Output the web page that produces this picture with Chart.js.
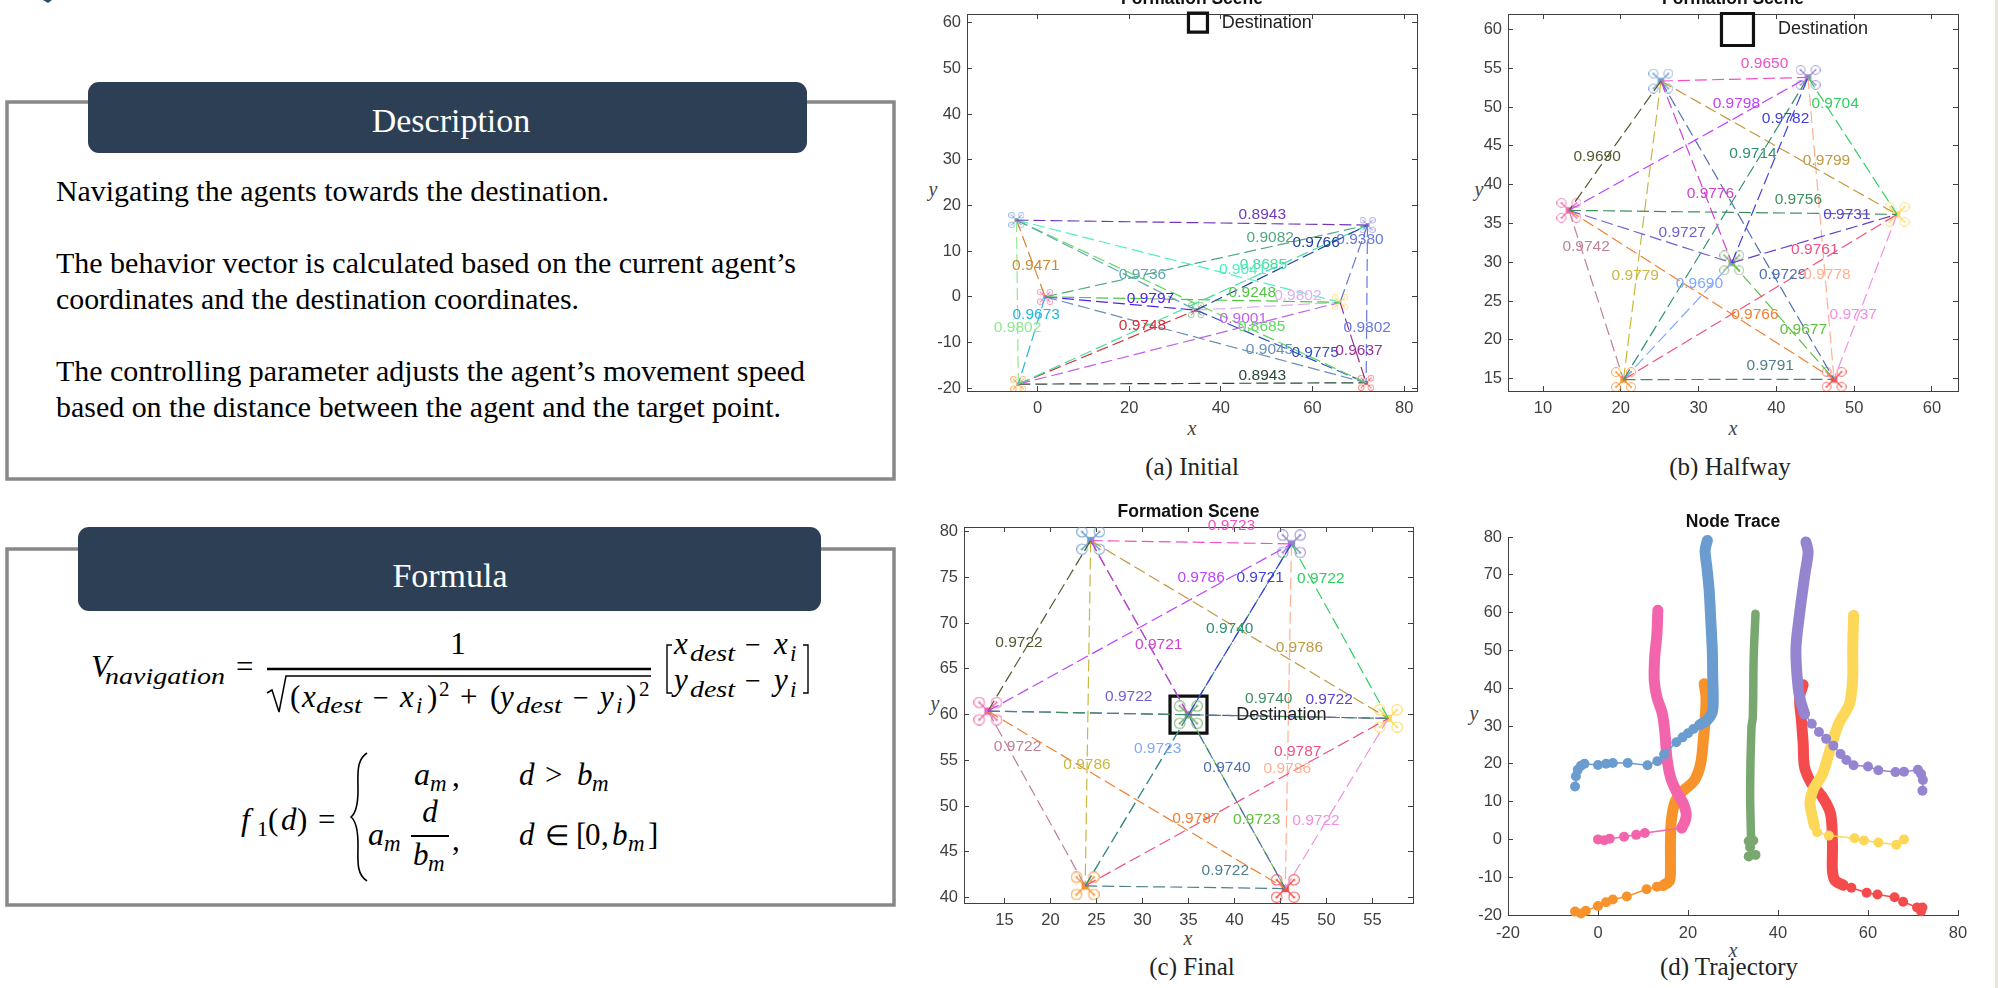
<!DOCTYPE html>
<html>
<head>
<meta charset="utf-8">
<title>Navigation</title>
<script src="https://cdn.jsdelivr.net/npm/chart.js@4"></script>
<style>
html,body{margin:0;padding:0;background:#fff;}
body{width:1998px;height:988px;overflow:hidden;position:relative;}
#page{position:absolute;left:0;top:0;}
canvas{position:absolute;filter:blur(0.35px);}
</style>
</head>
<body>
<svg id="page" width="1998" height="988" xmlns="http://www.w3.org/2000/svg"></svg>
<canvas id="chartA"></canvas>
<canvas id="chartB"></canvas>
<canvas id="chartC"></canvas>
<canvas id="chartD"></canvas>
<script>
// agents, same order in panels a,b,c: top-left, left, bottom-left, centre, right, top-right, bottom-right
var nodeColors=['#6b9ccf','#f265ac','#f8922a','#78a870','#fdd858','#9585d0','#f44c4c'];
var nodesAx=[-4.6,1.66,-4.2,34.6,66,72,71.7];
var nodesAy=[16.8,0,-19.1,-2.9,-1.2,15.7,-18.8];
var nodesBx=[25.16,13.34,20.35,34.27,55.51,44.07,47.41];
var nodesBy=[53.36,36.69,14.87,29.92,36.17,53.83,14.91];
var nodesCx=[24.37,13.2,23.77,34.98,56.72,46.19,45.52];
var nodesCy=[79.02,60.38,41.27,59.98,59.58,78.66,40.98];
var destX=[35];
var destY=[60];

// the 21 links
var edgeFrom=[0,1,3,5,0,0,2,0,1,3,1,1,0,2,2,0,1,3,4,5,2];
var edgeTo=  [5,5,5,4,1,3,5,4,4,4,3,2,2,3,4,6,6,6,6,6,6];
var edgeColorsA=['#7038b8','#50a880','#2040a0','#6878d8','#d08830','#60a8b0','#40e0a0','#50f0c0','#50c840','#e0b0f0','#5020f0','#20b8d8','#90e890','#d83038','#c060f0','#60d860','#6890b8','#3050c8','#983098','#6878e0','#284838'];
var edgeColorsB=['#f050c8','#c040ff','#4040e0','#30d060','#505a30','#d040d0','#2f8f70','#c09a40','#3f8f5f','#6040d0','#7060d0','#c08098','#c8b840','#80a8ff','#f05080','#5070b0','#f08030','#60c040','#f090e0','#ffb090','#4f7f8f'];

var valuesA=['0.8943','0.9082','0.9766','0.9380','0.9471','0.9736','0.8685','0.9041','0.9248','0.9802','0.9797','0.9673','0.9802','0.9748','0.9001','0.8685','0.9045','0.9775','0.9637','0.9802','0.8943'];
var labelAx=[49.04,50.77,60.79,70.36,-0.38,22.9,49.27,44.75,46.86,56.8,24.63,-0.3,-4.37,22.9,44.9,48.89,50.62,60.56,70.13,71.94,49.04];
var labelAy=[17.88,12.92,11.82,12.41,6.72,4.74,7.08,5.99,0.88,0.15,-0.36,-4.01,-6.72,-6.28,-4.89,-6.5,-11.53,-12.26,-11.75,-6.72,-17.3];

var valuesB=['0.9650','0.9798','0.9782','0.9704','0.9690','0.9776','0.9714','0.9799','0.9756','0.9731','0.9727','0.9742','0.9779','0.9690','0.9761','0.9729','0.9766','0.9677','0.9737','0.9778','0.9791'];
var labelBx=[38.48,34.86,41.18,47.55,16.96,31.52,37.0,46.45,42.83,49.06,27.9,15.54,21.86,30.1,44.94,40.8,37.24,43.47,49.88,46.5,39.21];
var labelBy=[55.55,50.49,48.48,50.4,43.63,38.83,43.98,43.12,38.1,36.09,33.82,32.0,28.2,27.2,31.55,28.33,23.27,21.26,23.19,28.4,16.71];

var valuesC=['0.9723','0.9786','0.9721','0.9722','0.9722','0.9721','0.9740','0.9786','0.9740','0.9722','0.9722','0.9722','0.9786','0.9723','0.9787','0.9740','0.9787','0.9723','0.9722','0.9786','0.9722'];
var labelCx=[39.67,36.37,42.78,49.38,16.57,31.76,39.48,47.05,43.72,50.28,28.5,16.42,23.96,31.64,46.87,39.18,35.8,42.4,48.85,45.74,39];
var labelCy=[80.65,74.99,74.99,74.8,67.83,67.61,69.36,67.32,61.69,61.62,61.98,56.53,54.5,56.31,55.99,54.2,48.65,48.54,48.36,54.1,42.9];

var ticksAx=[0,20,40,60,80];
var ticksAy=[-20,-10,0,10,20,30,40,50,60];
var ticksBx=[10,20,30,40,50,60];
var ticksBy=[15,20,25,30,35,40,45,50,55,60];
var ticksCx=[15,20,25,30,35,40,45,50,55];
var ticksCy=[40,45,50,55,60,65,70,75,80];
var ticksDx=[-20,0,20,40,60,80];
var ticksDy=[-20,-10,0,10,20,30,40,50,60,70,80];

// node trace, sparse part is where the dots can be told apart, dense part is where they merge
var blueSparseX=[-5.1,-4.9,-4.5,-3.8,-3,0,1.8,3.3,6.6,11,13.2,14.7,17.4,18.8,20,21.2,22.6];
var blueSparseY=[14,16.7,18.4,19.5,20,19.7,20,20.2,20.2,19.6,20.7,22.5,25.7,27,28.1,29.2,30.3];
var blueDenseX=[22.6,24.2,25.4,25.6,25.5,25.4,25.1,24.7,24.2,23.8,24.3];
var blueDenseY=[30.3,31.5,33.7,37.6,42.9,50,57,65.9,72,76.5,79.1];
var pinkSparseX=[0,1.4,2.6,5.8,8.5,10.4,18.6];
var pinkSparseY=[0,-0.2,0.2,0.7,1.2,1.7,3];
var pinkDenseX=[18.6,19.4,19.6,19,17.5,16.1,15.3,14.9,14.3,13.1,12.5,12.6,13.1,13.3];
var pinkDenseY=[3,5,6.8,9.4,12.5,16.5,21.7,27.9,33.2,37.6,42,48.2,54.4,60.6];
var orangeSparseX=[-5.1,-3.8,-2.7,0,1.8,3.3,6.4,10.8,13.1,14.5];
var orangeSparseY=[-19.1,-19.6,-18.9,-17.6,-16.6,-15.9,-15.1,-13.2,-12.5,-12.2];
var orangeDenseX=[14.5,15.9,16.1,16.1,16.3,17.1,18.6,21.4,22.8,23.4,23.8,24,23.6];
var orangeDenseY=[-12.2,-10.9,-7.4,-1.2,5,9.8,12.5,15.6,20,26.2,31.5,37.6,41.2];
var greenSparseX=[33.5,35,33.8,33.5,34.5];
var greenSparseY=[-4.5,-4.1,-2.1,-0.5,-0.3];
var greenDenseX=[34,33.8,34.1,34.4,34.6,35];
var greenDenseY=[0.6,12.9,29.7,32.3,48.2,59.7];
var purpleSparseX=[72.1,72.2,71.8,71.1,68,66.1,62.3,60,56.8,55.2,53.9,52.3,50.7,49.1,47.5,45.9];
var purpleSparseY=[12.9,15.7,17.3,18.4,17.9,17.8,18.3,19.3,19.6,21,22.6,24.8,26.6,28.4,30.6,33.2];
var purpleDenseX=[45.9,44.8,44.2,44,44.8,46,46.7,46.2];
var purpleDenseY=[33.2,37.6,43.8,50.9,59.7,70.3,76,78.7];
var yellowSparseX=[68,66.3,62.3,59.1,57,51.3,48.7,48.1];
var yellowSparseY=[0,-1.4,-0.8,-0.3,0.3,1,1.9,3.6];
var yellowDenseX=[48.1,47.5,47.1,47.9,49.9,51.5,53.5,55.9,56.6,56.6,56.8];
var yellowDenseY=[3.6,6.7,9.8,13.4,17.3,23.5,30.6,35.9,42.9,50,59.3];
var redSparseX=[71.8,72.1,70.9,67.8,65.9,62.1,59.7,56.3,54.5];
var redSparseY=[-19,-18,-18,-16.5,-15.3,-14.6,-14.1,-12.8,-12.1];
var redDenseX=[54.5,52.7,52.1,52.1,51.7,49.9,47.5,45.9,45.6,45.2,44.8,45.6];
var redDenseY=[-12.1,-10.9,-8.3,-1.2,6.7,11.2,14.7,19.1,25.3,31.5,37.6,40.9];

var FONT='"Liberation Sans",Arial,sans-serif';
var SERIF='"Liberation Serif","Times New Roman",serif';
var TICKCOL='#404040';
var SIDE=44,BOTTOM=30,TOPH=25;

function pts(xs,ys){
	var out=[];
	for(var i=0;i<xs.length;i++){
		out.push({x:xs[i],y:ys[i]});
	}
	return out;
}

// quadcopter glyph, used as the point style of the agents
function droneIcon(color,size){
	var c=document.createElement('canvas');
	c.width=size;c.height=size;
	var g=c.getContext('2d');
	var m=size/2,r=size*0.18,o=size*0.3;
	g.strokeStyle=color;g.fillStyle=color;
	var sx=[-1,1,-1,1],sy=[-1,-1,1,1];
	for(var i=0;i<4;i++){
		g.lineWidth=Math.max(1,size/20);
		g.beginPath();g.moveTo(m,m);g.lineTo(m+sx[i]*o,m+sy[i]*o);g.stroke();
		g.globalAlpha=0.85;
		g.lineWidth=Math.max(0.8,size/26);
		g.beginPath();g.arc(m+sx[i]*o,m+sy[i]*o,r,0,Math.PI*2);g.stroke();
		g.beginPath();g.arc(m+sx[i]*o,m+sy[i]*o,Math.max(0.7,size/24),0,Math.PI*2);g.fill();
		g.globalAlpha=1;
	}
	var b=size/8;
	g.fillRect(m-b,m-b,b*2,b*2);
	return c;
}

// number labels and the "Destination" word, anchored in data coordinates
var textPlugin={
	id:'edgeText',
	afterDatasetsDraw:function(chart,args,opts){
		if(!opts.items){return;}
		var ctx=chart.ctx;
		ctx.save();
		ctx.textBaseline='middle';
		for(var i=0;i<opts.items.length;i++){
			var t=opts.items[i];
			ctx.font=t.size+'px '+FONT;
			ctx.fillStyle=t.color;
			ctx.textAlign=t.align||'center';
			ctx.fillText(t.text,chart.scales.x.getPixelForValue(t.x),chart.scales.y.getPixelForValue(t.y));
		}
		ctx.restore();
	}
};

function linearAxis(pos,min,max,list,opts){
	var isX=(pos=='bottom'||pos=='top');
	var shown=(pos=='bottom'||pos=='left');
	return {
		type:'linear',axis:isX?'x':'y',position:pos,min:min,max:max,
		border:{display:opts.box||shown,color:TICKCOL,width:1},
		grid:{drawOnChartArea:false,drawTicks:opts.box||shown,tickLength:-5,color:TICKCOL,lineWidth:1},
		ticks:{
			display:shown,color:TICKCOL,autoSkip:false,maxRotation:0,
			font:{family:FONT,size:16.5},
			padding:isX?opts.padX:11,
			callback:function(v){return String(v);}
		},
		afterBuildTicks:function(s){
			s.ticks=list.map(function(v){return {value:v};});
		},
		afterFit:function(s){
			if(isX){s.height=(pos=='bottom')?BOTTOM:0;}
			else{s.width=SIDE;}
		}
	};
}

function makeChart(id,box,limits,tickX,tickY,title,datasets,items,opts){
	var cv=document.getElementById(id);
	cv.width=box.r-box.l+SIDE*2;
	cv.height=box.b-box.t+TOPH+BOTTOM;
	cv.style.left=(box.l-SIDE)+'px';
	cv.style.top=(box.t-TOPH)+'px';
	return new Chart(cv,{
		type:'scatter',
		data:{datasets:datasets},
		plugins:[textPlugin],
		options:{
			responsive:false,animation:false,devicePixelRatio:1,
			layout:{padding:0,autoPadding:false},
			scales:{
				x:linearAxis('bottom',limits[0],limits[1],tickX,opts),
				y:linearAxis('left',limits[2],limits[3],tickY,opts),
				xTop:linearAxis('top',limits[0],limits[1],tickX,opts),
				yRight:linearAxis('right',limits[2],limits[3],tickY,opts)
			},
			plugins:{
				legend:{display:false},
				tooltip:{enabled:false},
				title:{display:true,text:title,color:'#111',font:{family:FONT,size:17.5,weight:'bold',lineHeight:1.2},padding:{top:0,bottom:4}},
				edgeText:{items:items}
			}
		}
	});
}

function formationSets(nx,ny,colors,iconSize,destSize){
	var sets=[];
	for(var i=0;i<edgeFrom.length;i++){
		var a=edgeFrom[i],b=edgeTo[i];
		sets.push({
			data:[{x:nx[a],y:ny[a]},{x:nx[b],y:ny[b]}],
			showLine:true,pointRadius:0,borderColor:colors[i],borderWidth:1.2,borderDash:[12,5]
		});
	}
	for(var k=0;k<nx.length;k++){
		sets.push({
			data:[{x:nx[k],y:ny[k]}],
			showLine:false,pointStyle:droneIcon(nodeColors[k],iconSize),pointRadius:iconSize/2
		});
	}
	sets.push({
		data:pts(destX,destY),
		showLine:false,pointStyle:'rect',pointRadius:destSize/Math.SQRT2,clip:false,
		borderColor:'#111',borderWidth:3.2,backgroundColor:'rgba(0,0,0,0)'
	});
	return sets;
}

function formationText(vals,lx,ly,colors){
	var items=[];
	for(var i=0;i<vals.length;i++){
		items.push({text:vals[i],x:lx[i],y:ly[i],color:colors[i],size:15.5});
	}
	items.push({text:'Destination',x:40.2,y:destY[0],color:'#222',size:18,align:'left'});
	return items;
}

function traceSets(color,sx,sy,dx,dy,w){
	return [
		{data:pts(sx,sy),showLine:true,borderColor:color,borderWidth:1.5,backgroundColor:color,pointRadius:5,pointBorderWidth:0,clip:false},
		{data:pts(dx,dy),showLine:true,borderColor:color,borderWidth:w,pointRadius:0,tension:0.3,borderCapStyle:'round',borderJoinStyle:'round',clip:false}
	];
}

Chart.defaults.font.family=FONT;

makeChart('chartA',{l:967,r:1417,t:14,b:391},[-15.4,82.8,-20.6,61.9],ticksAx,ticksAy,'Formation Scene',
	formationSets(nodesAx,nodesAy,edgeColorsA,16,19),formationText(valuesA,labelAx,labelAy,edgeColorsA),{box:true,padX:13});
makeChart('chartB',{l:1508,r:1958,t:14,b:391},[5.5,63.35,13.4,62],ticksBx,ticksBy,'Formation Scene',
	formationSets(nodesBx,nodesBy,edgeColorsB,25,32),formationText(valuesB,labelBx,labelBy,edgeColorsB),{box:true,padX:13});
makeChart('chartC',{l:964,r:1413,t:527,b:903},[10.6,59.4,39.4,80.5],ticksCx,ticksCy,'Formation Scene',
	formationSets(nodesCx,nodesCy,edgeColorsB,29,37),formationText(valuesC,labelCx,labelCy,edgeColorsB),{box:true,padX:13});
var traces=[].concat(
	traceSets('#6b9ccf',blueSparseX,blueSparseY,blueDenseX,blueDenseY,11),
	traceSets('#f265ac',pinkSparseX,pinkSparseY,pinkDenseX,pinkDenseY,11),
	traceSets('#f8922a',orangeSparseX,orangeSparseY,orangeDenseX,orangeDenseY,11),
	traceSets('#78a870',greenSparseX,greenSparseY,greenDenseX,greenDenseY,8.5),
	traceSets('#9585d0',purpleSparseX,purpleSparseY,purpleDenseX,purpleDenseY,11),
	traceSets('#fdd858',yellowSparseX,yellowSparseY,yellowDenseX,yellowDenseY,11),
	traceSets('#f44c4c',redSparseX,redSparseY,redDenseX,redDenseY,11)
);
makeChart('chartD',{l:1508,r:1958,t:537,b:915},[-20,80,-20,80],ticksDx,ticksDy,'Node Trace',traces,[],{box:false,padX:14});

// left column and captions
var svg='';
function T(x,y,size,str,italic,anchor,color,len){
	svg+='<text x="'+x+'" y="'+y+'" font-size="'+size+'" font-family=\''+SERIF+'\''
		+(italic?' font-style="italic"':'')
		+(anchor?' text-anchor="'+anchor+'"':'')
		+' fill="'+(color||'#000')+'"'
		+(len?' textLength="'+len+'" lengthAdjust="spacingAndGlyphs"':'')
		+'>'+str+'</text>';
}
function L(x1,y1,x2,y2,w){
	svg+='<line x1="'+x1+'" y1="'+y1+'" x2="'+x2+'" y2="'+y2+'" stroke="#000" stroke-width="'+(w||1.5)+'"/>';
}
function panel(x,y,w,h,hx,hy,hw,hh,title,tx,ty){
	svg+='<rect x="'+x+'" y="'+y+'" width="'+w+'" height="'+h+'" fill="#fff" stroke="#888" stroke-width="3.5"/>';
	svg+='<rect x="'+hx+'" y="'+hy+'" width="'+hw+'" height="'+hh+'" rx="11" fill="#2d3f55"/>';
	T(tx,ty,34,title,false,'middle','#fff');
}
// bits of the slide edge that show in the crop
svg+='<path d="M43 0 L52 0 L48 3 Z" fill="#2d4a6b"/>';
svg+='<rect x="1995" y="0" width="3" height="988" fill="#e9e7da"/>';
panel(7,102,887,377,88,82,719,71,'Description',451,132);
panel(7,549,887,356,78,527,743,84,'Formula',450,587);

T(56,201,28.5,'Navigating the agents towards the destination.',false,null,null,553);
T(56,273,28.5,'The behavior vector is calculated based on the current agent’s',false,null,null,740);
T(56,309,28.5,'coordinates and the destination coordinates.',false,null,null,523);
T(56,381,28.5,'The controlling parameter adjusts the agent’s movement speed',false,null,null,749);
T(56,417,28.5,'based on the distance between the agent and the target point.',false,null,null,725);

// first formula
T(91,677,32,'V',true);
T(105,684,23,'navigation',true,null,null,120);
T(236,677,31,'=');
T(458,654,31,'1',false,'middle');
L(267,669,651,669,2.4);
svg+='<path d="M267 693 L272 690 L279 712 L286 676 L651 676" fill="none" stroke="#000" stroke-width="1.5"/>';
T(290,707,31,'(');T(302,707,31,'x',true);T(316,713,23,'dest',true,null,null,46);
T(373,707,28,'−');T(400,707,31,'x',true);T(416,713,23,'i',true);T(427,707,31,')');T(439,696,21,'2');
T(460,707,31,'+');T(490,707,31,'(');T(500,707,31,'y',true);T(516,713,23,'dest',true,null,null,46);
T(573,707,28,'−');T(600,707,31,'y',true);T(616,713,23,'i',true);T(626,707,31,')');T(639,696,21,'2');
// matrix
svg+='<path d="M672 645 L667 645 L667 693 L672 693 M803 645 L808 645 L808 693 L803 693" fill="none" stroke="#000" stroke-width="1.4"/>';
T(674,654,31,'x',true);T(690,661,23,'dest',true,null,null,45);T(745,654,28,'−');T(774,654,31,'x',true);T(790,661,23,'i',true);
T(674,690,31,'y',true);T(690,697,23,'dest',true,null,null,45);T(745,690,28,'−');T(774,690,31,'y',true);T(790,697,23,'i',true);
// second formula
T(241,830,32,'f',true);T(257,836,22,'1');T(268,830,31,'(');T(281,830,31,'d',true);T(297,830,31,')');T(318,830,31,'=');
svg+='<path d="M367 753 C356 760 358 775 358 790 C358 805 356 813 351 817 C356 821 358 829 358 845 C358 860 356 874 367 881" fill="none" stroke="#000" stroke-width="1.6"/>';
T(414,785,32,'a',true);T(430,791,23,'m',true);T(452,786,31,',');
T(519,785,31,'d',true);T(545,785,31,'&gt;');T(577,785,31,'b',true);T(592,791,23,'m',true);
T(368,845,32,'a',true);T(384,851,23,'m',true);
T(430,822,31,'d',true,'middle');L(411,836,449,836,2.2);T(413,865,31,'b',true);T(428,871,23,'m',true);T(452,850,31,',');
T(519,845,31,'d',true);T(545,845,28,'∈');T(576,845,31,'[');T(585,845,31,'0');T(601,845,31,',');T(612,845,31,'b',true);T(628,851,23,'m',true);T(648,845,31,']');

// captions and axis names
T(1192,475,25,'(a) Initial',false,'middle','#222');
T(1730,475,25,'(b) Halfway',false,'middle','#222');
T(1192,975,25,'(c) Final',false,'middle','#222');
T(1729,975,25,'(d) Trajectory',false,'middle','#222');
T(1192,435,20,'x',true,'middle','#444');
T(1733,435,20,'x',true,'middle','#444');
T(1188,945,20,'x',true,'middle','#444');
T(1733,957,20,'x',true,'middle','#444');
T(933,196,20,'y',true,'middle','#444');
T(1479,196,20,'y',true,'middle','#444');
T(935,710,20,'y',true,'middle','#444');
T(1474,720,20,'y',true,'middle','#444');
document.getElementById('page').innerHTML=svg;
</script>
</body>
</html>
